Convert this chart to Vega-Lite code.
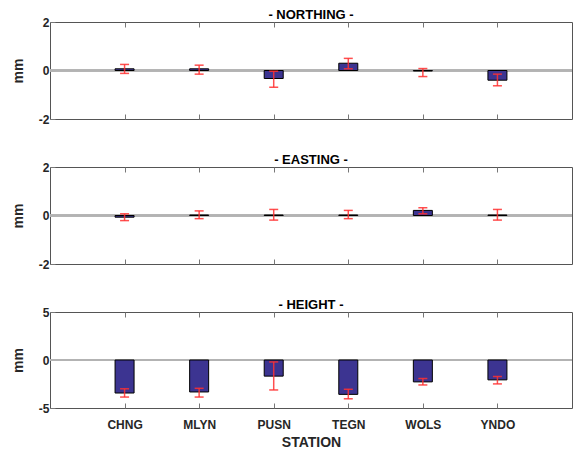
{
  "$schema": "https://vega.github.io/schema/vega-lite/v6.json",
  "padding": {"left": 10, "top": 8, "right": 3, "bottom": 0},
  "spacing": 27,
  "background": "white",
  "config": {
    "view": {"stroke": "#555555", "strokeWidth": 1},
    "font": "Liberation Sans",
    "axis": {
      "domain": false, "grid": false,
      "tickSize": -5, "tickColor": "#777777", "tickWidth": 1,
      "labelFont": "Liberation Sans", "labelFontSize": 12, "labelFontWeight": "bold", "labelColor": "#262626",
      "titleFont": "Liberation Sans", "titleFontSize": 14, "titleFontWeight": "bold", "titleColor": "#262626"
    },
    "axisX": {"minExtent": 0},
    "title": {"font": "Liberation Sans", "fontSize": 13, "fontWeight": "bold", "color": "#000000", "offset": -6, "anchor": "middle"}
  },
  "datasets": {
    "northing": [
      {"station": "CHNG", "value": 0.07, "lo": -0.12, "hi": 0.25},
      {"station": "MLYN", "value": 0.07, "lo": -0.15, "hi": 0.22},
      {"station": "PUSN", "value": -0.33, "lo": -0.69, "hi": -0.03},
      {"station": "TEGN", "value": 0.30, "lo": 0.07, "hi": 0.50},
      {"station": "WOLS", "value": -0.02, "lo": -0.25, "hi": 0.08},
      {"station": "YNDO", "value": -0.40, "lo": -0.63, "hi": -0.15}
    ],
    "easting": [
      {"station": "CHNG", "value": -0.07, "lo": -0.21, "hi": 0.07},
      {"station": "MLYN", "value": 0.02, "lo": -0.13, "hi": 0.19},
      {"station": "PUSN", "value": 0.02, "lo": -0.19, "hi": 0.25},
      {"station": "TEGN", "value": 0.02, "lo": -0.13, "hi": 0.21},
      {"station": "WOLS", "value": 0.21, "lo": 0.07, "hi": 0.32},
      {"station": "YNDO", "value": 0.02, "lo": -0.19, "hi": 0.25}
    ],
    "height": [
      {"station": "CHNG", "value": -3.44, "lo": -3.86, "hi": -3.0},
      {"station": "MLYN", "value": -3.33, "lo": -3.86, "hi": -2.95},
      {"station": "PUSN", "value": -1.68, "lo": -3.12, "hi": -0.2},
      {"station": "TEGN", "value": -3.58, "lo": -4.04, "hi": -3.05},
      {"station": "WOLS", "value": -2.28, "lo": -2.6, "hi": -1.93},
      {"station": "YNDO", "value": -2.07, "lo": -2.49, "hi": -1.72}
    ]
  },
  "vconcat": [
    {
      "width": 522, "height": 97,
      "title": "- NORTHING -",
      "data": {"name": "northing"},
      "resolve": {"axis": {"x": "independent"}},
      "layer": [
        {"mark": {"type": "rule", "color": "#b3b3b3", "strokeWidth": 2},
         "encoding": {"y": {"datum": 0, "type": "quantitative", "scale": {"domain": [-2, 2]}, "axis": {"values": [-2, 0, 2], "labelExpr": "'' + datum.value", "title": "mm", "labelPadding": 6, "titlePadding": 13}}}},
        {"mark": {"type": "bar", "width": 19, "fill": "#3c3491", "stroke": "#000000", "strokeWidth": 1},
         "encoding": {
           "x": {"field": "station", "type": "ordinal", "sort": null, "scale": {"type": "point", "padding": 1}, "axis": {"labels": false, "title": null, "labelPadding": 0}},
           "y": {"field": "value", "type": "quantitative"},
           "y2": {"datum": 0}}},
        {"mark": {"type": "rule", "color": "#ff3030", "strokeWidth": 1.5, "opacity": 0.85},
         "encoding": {
           "x": {"field": "station", "type": "ordinal", "sort": null, "axis": {"orient": "top", "labels": false, "title": null, "labelPadding": 0}},
           "y": {"field": "lo", "type": "quantitative"},
           "y2": {"field": "hi"}}},
        {"mark": {"type": "tick", "color": "#ff3030", "thickness": 1.5, "size": 9, "opacity": 0.85},
         "encoding": {"x": {"field": "station", "type": "ordinal", "sort": null, "axis": null}, "y": {"field": "lo", "type": "quantitative"}}},
        {"mark": {"type": "tick", "color": "#ff3030", "thickness": 1.5, "size": 9, "opacity": 0.85},
         "encoding": {"x": {"field": "station", "type": "ordinal", "sort": null, "axis": null}, "y": {"field": "hi", "type": "quantitative"}}}
      ]
    },
    {
      "width": 522, "height": 97,
      "title": "- EASTING -",
      "data": {"name": "easting"},
      "resolve": {"axis": {"x": "independent"}},
      "layer": [
        {"mark": {"type": "rule", "color": "#b3b3b3", "strokeWidth": 2},
         "encoding": {"y": {"datum": 0, "type": "quantitative", "scale": {"domain": [-2, 2]}, "axis": {"values": [-2, 0, 2], "labelExpr": "'' + datum.value", "title": "mm", "labelPadding": 6, "titlePadding": 13}}}},
        {"mark": {"type": "bar", "width": 19, "fill": "#3c3491", "stroke": "#000000", "strokeWidth": 1},
         "encoding": {
           "x": {"field": "station", "type": "ordinal", "sort": null, "scale": {"type": "point", "padding": 1}, "axis": {"labels": false, "title": null, "labelPadding": 0}},
           "y": {"field": "value", "type": "quantitative"},
           "y2": {"datum": 0}}},
        {"mark": {"type": "rule", "color": "#ff3030", "strokeWidth": 1.5, "opacity": 0.85},
         "encoding": {
           "x": {"field": "station", "type": "ordinal", "sort": null, "axis": {"orient": "top", "labels": false, "title": null, "labelPadding": 0}},
           "y": {"field": "lo", "type": "quantitative"},
           "y2": {"field": "hi"}}},
        {"mark": {"type": "tick", "color": "#ff3030", "thickness": 1.5, "size": 9, "opacity": 0.85},
         "encoding": {"x": {"field": "station", "type": "ordinal", "sort": null, "axis": null}, "y": {"field": "lo", "type": "quantitative"}}},
        {"mark": {"type": "tick", "color": "#ff3030", "thickness": 1.5, "size": 9, "opacity": 0.85},
         "encoding": {"x": {"field": "station", "type": "ordinal", "sort": null, "axis": null}, "y": {"field": "hi", "type": "quantitative"}}}
      ]
    },
    {
      "width": 522, "height": 96,
      "title": "- HEIGHT -",
      "data": {"name": "height"},
      "resolve": {"axis": {"x": "independent"}},
      "layer": [
        {"mark": {"type": "rule", "color": "#b3b3b3", "strokeWidth": 2},
         "encoding": {"y": {"datum": 0, "type": "quantitative", "scale": {"domain": [-5, 5]}, "axis": {"values": [-5, 0, 5], "labelExpr": "'' + datum.value", "title": "mm", "labelPadding": 6, "titlePadding": 13}}}},
        {"mark": {"type": "bar", "width": 19, "fill": "#3c3491", "stroke": "#000000", "strokeWidth": 1},
         "encoding": {
           "x": {"field": "station", "type": "ordinal", "sort": null, "scale": {"type": "point", "padding": 1}, "axis": {"labelAngle": 0, "labelPadding": 16, "title": "STATION", "titlePadding": 5}},
           "y": {"field": "value", "type": "quantitative"},
           "y2": {"datum": 0}}},
        {"mark": {"type": "rule", "color": "#ff3030", "strokeWidth": 1.5, "opacity": 0.85},
         "encoding": {
           "x": {"field": "station", "type": "ordinal", "sort": null, "axis": {"orient": "top", "labels": false, "title": null, "labelPadding": 0}},
           "y": {"field": "lo", "type": "quantitative"},
           "y2": {"field": "hi"}}},
        {"mark": {"type": "tick", "color": "#ff3030", "thickness": 1.5, "size": 9, "opacity": 0.85},
         "encoding": {"x": {"field": "station", "type": "ordinal", "sort": null, "axis": null}, "y": {"field": "lo", "type": "quantitative"}}},
        {"mark": {"type": "tick", "color": "#ff3030", "thickness": 1.5, "size": 9, "opacity": 0.85},
         "encoding": {"x": {"field": "station", "type": "ordinal", "sort": null, "axis": null}, "y": {"field": "hi", "type": "quantitative"}}}
      ]
    }
  ]
}
